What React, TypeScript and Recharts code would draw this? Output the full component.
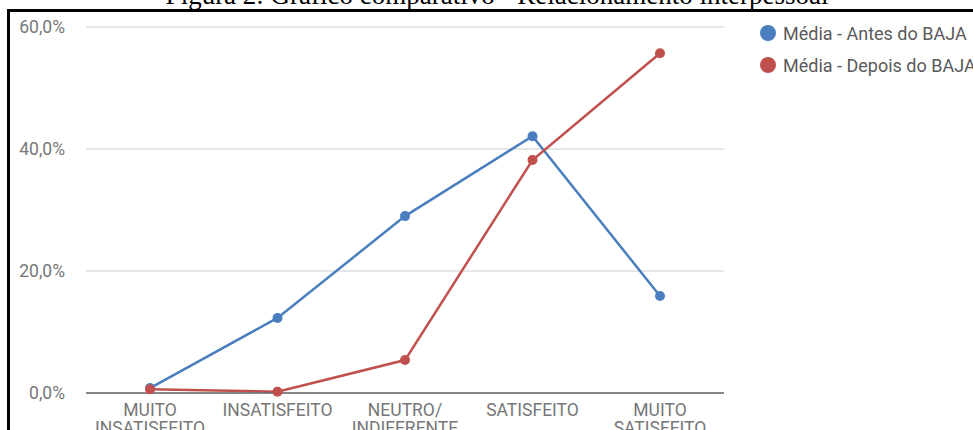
import React from "react";
import { LineChart, Line, XAxis, YAxis, CartesianGrid } from "recharts";

const categories = ["MUITO\nINSATISFEITO", "INSATISFEITO", "NEUTRO/\nINDIFERENTE", "SATISFEITO", "MUITO\nSATISFEITO"];
const antes = [0.008, 0.123, 0.29, 0.421, 0.159];
const depois = [0.006, 0.002, 0.054, 0.382, 0.557];
const yTicks = [0, 0.2, 0.4, 0.6];
const seriesNames = ["Média - Antes do BAJA", "Média - Depois do BAJA"];
const colors = ["#4a7ebf", "#c0504d"];

const data = categories.map((c, i) => ({ cat: c, antes: antes[i], depois: depois[i] }));

const fmt = (v: number) => (v * 100).toFixed(1).replace(".", ",") + "%";

const XTick = (props: any) => {
  const { x, y, payload } = props;
  const lines = String(payload.value).split("\n");
  return (
    <text x={x} y={y} textAnchor="middle" fill="#777" fontSize={17.5} fontFamily="Roboto">
      {lines.map((l, i) => (
        <tspan key={i} x={x} dy={i === 0 ? 15 : 18}>{l}</tspan>
      ))}
    </text>
  );
};

export default function App() {
  return (
    <div style={{ position: "absolute", left: 0, top: 0, width: 973, height: 430, overflow: "hidden", background: "#fff" }}>
      <div style={{ position: "absolute", left: 0, width: 994, top: -18, textAlign: "center", fontFamily: "'Liberation Serif', 'Times New Roman', serif", fontSize: 27, lineHeight: "27px", color: "#000", whiteSpace: "nowrap" }}>
        Figura 2: Gráfico comparativo - Relacionamento interpessoal
      </div>
      <div style={{ position: "absolute", left: 7, top: 9, width: 1100, height: 600, borderLeft: "3px solid #000", borderTop: "3px solid #000", boxSizing: "border-box" }} />
      <div style={{ position: "absolute", left: 0, top: 0 }}>
        <LineChart width={973} height={450} data={data} margin={{ top: 27, right: 249, bottom: 20, left: 0 }}>
          <CartesianGrid horizontal={true} vertical={false} stroke="#ccc" />
          <XAxis dataKey="cat" tick={<XTick />} tickLine={false} axisLine={{ stroke: "#666", strokeWidth: 1.5 }} height={37} interval={0} padding={{ left: 64, right: 64 }} />
          <YAxis domain={[0, 0.6]} ticks={yTicks} tickFormatter={fmt} width={86} tickLine={false} axisLine={false} tickMargin={15} tick={{ fill: "#777", fontSize: 17.5, fontFamily: "Roboto" }} />
          <Line dataKey="antes" name={seriesNames[0]} stroke={colors[0]} strokeWidth={2.5} dot={{ r: 5, fill: colors[0], stroke: colors[0], strokeWidth: 0 }} isAnimationActive={false} />
          <Line dataKey="depois" name={seriesNames[1]} stroke={colors[1]} strokeWidth={2.5} dot={{ r: 5, fill: colors[1], stroke: colors[1], strokeWidth: 0 }} isAnimationActive={false} />
        </LineChart>
      </div>
      <div style={{ position: "absolute", left: 759, top: 17, fontFamily: "Roboto", fontSize: 18, color: "#5a5a5a", whiteSpace: "nowrap" }}>
        {seriesNames.map((n, i) => (
          <div key={i} style={{ display: "flex", alignItems: "center", height: 32 }}>
            <svg width={18} height={18} style={{ marginRight: 6 }}>
              <circle cx={9} cy={9} r={8} fill={colors[i]} />
            </svg>
            <span>{n}</span>
          </div>
        ))}
      </div>
    </div>
  );
}
